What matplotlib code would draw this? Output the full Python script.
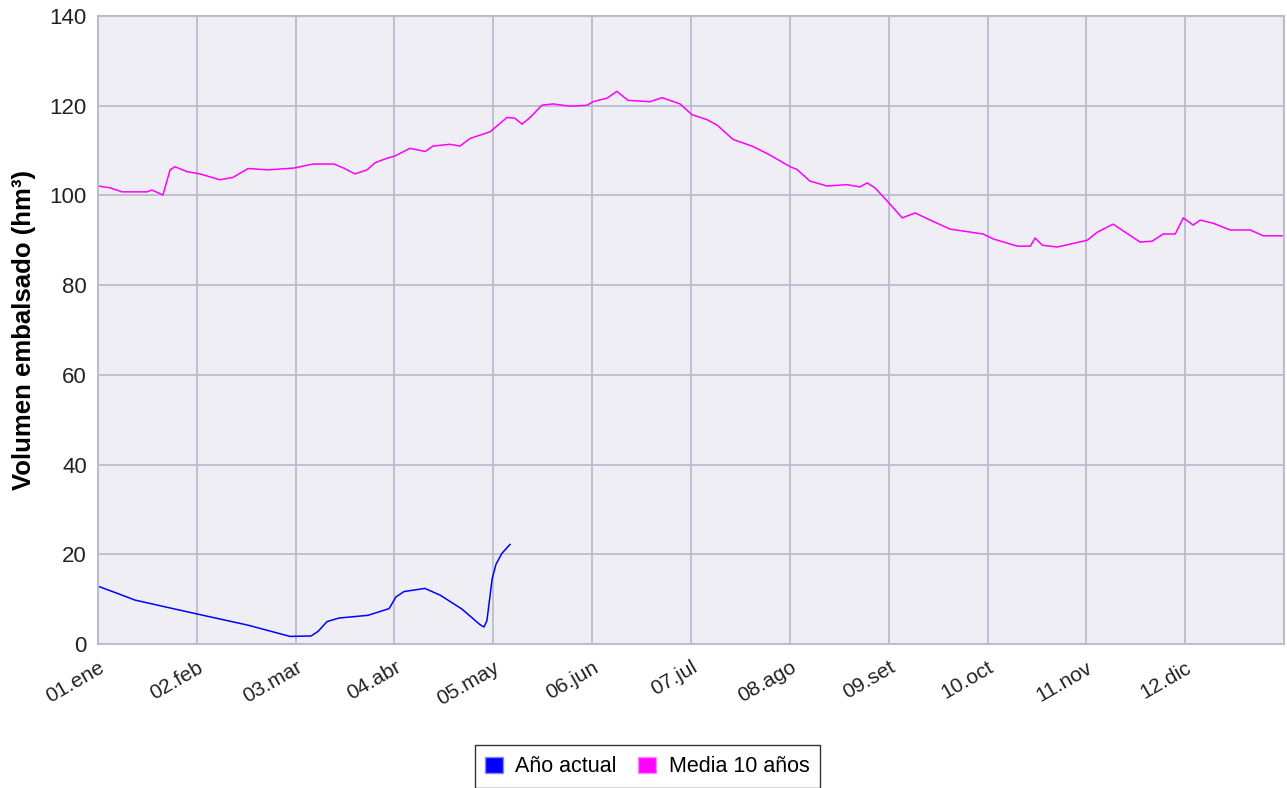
import numpy as np
import matplotlib
matplotlib.use("Agg")
import matplotlib.pyplot as plt
from matplotlib.patches import Patch

plt.rcParams['font.family'] = ['Liberation Sans', 'DejaVu Sans']

# ===================== DATOS =====================
# dia del anio (0..365) y volumen (hm3)
dias_actual = [0, 5.2, 11.4, 20.6, 30.5, 46.2, 59.1, 65.6, 67.7, 70.5, 74.2, 83.1,
               89.6, 91.7, 94.2, 100.6, 105.3, 112.0, 117.6, 118.8, 119.7, 121.3,
               122.5, 124.3, 126.8]
vol_actual = [12.9, 11.5, 9.8, 8.3, 6.7, 4.2, 1.7, 1.8, 2.8, 5.0, 5.8, 6.4,
              7.9, 10.5, 11.7, 12.4, 10.9, 7.8, 4.3, 3.8, 5.2, 14.5,
              17.8, 20.2, 22.2]

dias_media = [0, 3.7, 7.4, 15.1, 16.6, 19.7, 20.0, 22.2, 23.7, 27.4, 31.4, 37.5,
              41.5, 46.2, 52.3, 60.3, 66.2, 68.6, 72.6, 75.6, 79.1, 82.8, 85.3,
              89.0, 91.4, 96.0, 100.7, 103.1, 108.3, 111.4, 114.5, 120.7, 125.9,
              128.3, 130.5, 133.0, 136.6, 140.0, 145.3, 150.5, 152.4, 156.7, 159.7,
              163.1, 169.9, 173.6, 179.1, 182.8, 187.4, 190.5, 195.4, 201.6, 206.8,
              213.0, 215.1, 219.1, 224.4, 230.5, 234.5, 236.7, 239.1, 243.2, 247.5,
              251.5, 256.1, 262.2, 272.4, 275.5, 282.9, 286.9, 288.4, 290.6, 295.2,
              304.4, 307.5, 312.4, 320.7, 324.4, 327.8, 331.5, 334.0, 337.0, 339.2,
              343.2, 348.4, 354.6, 358.6, 364.4]
vol_media = [102.1, 101.7, 100.8, 100.8, 101.2, 100.2, 100.1, 105.7, 106.4, 105.3, 104.8, 103.5,
             104.0, 106.0, 105.7, 106.1, 107.0, 107.0, 107.0, 106.1, 104.8, 105.7, 107.3,
             108.3, 108.8, 110.5, 109.8, 111.0, 111.4, 111.0, 112.7, 114.2, 117.4,
             117.2, 115.9, 117.4, 120.1, 120.4, 119.9, 120.1, 120.9, 121.7, 123.2,
             121.2, 120.9, 121.8, 120.4, 118.0, 116.9, 115.7, 112.5, 110.9, 109.0,
             106.4, 105.8, 103.2, 102.1, 102.4, 101.9, 102.8, 101.7, 98.5, 95.0,
             96.1, 94.5, 92.5, 91.4, 90.3, 88.7, 88.7, 90.5, 88.9, 88.5,
             90.0, 91.8, 93.6, 89.6, 89.8, 91.4, 91.4, 95.0, 93.4, 94.5,
             93.8, 92.3, 92.3, 91.0, 91.0]

etiquetas_x = ["01.ene", "02.feb", "03.mar", "04.abr", "05.may", "06.jun",
               "07.jul", "08.ago", "09.set", "10.oct", "11.nov", "12.dic"]

# ===================== GRAFICO =====================
fig = plt.figure(figsize=(12.87, 7.88), dpi=100)
ax = fig.add_axes([0.0761, 0.1827, 0.9216, 0.797])

color_grid = '#bcbcd0'
ax.set_facecolor('#eeeef4')
ax.plot(dias_actual, vol_actual, color='#0000ff', lw=1.1, label='Año actual')
ax.plot(dias_media, vol_media, color='#ff00ff', lw=1.1, label='Media 10 años')

ax.set_xlim(0, 365)
ax.set_ylim(0, 140)
ax.set_yticks(np.arange(0, 141, 20))
ticks_x = [i * 365 / 12 for i in range(12)]
ax.set_xticks(ticks_x)
ax.set_xticklabels(etiquetas_x, rotation=30, ha='right', rotation_mode='anchor')
ax.tick_params(axis='both', length=0, labelsize=16, colors='#222222', pad=8)
ax.tick_params(axis='x', pad=10, labelsize=15)
ax.grid(True, color=color_grid, lw=1.3)
ax.set_axisbelow(True)
for s in ax.spines.values():
    s.set_color(color_grid)
    s.set_linewidth(1.5)

ax.set_ylabel("Volumen embalsado (hm³)", fontsize=18.5, fontweight='bold', labelpad=10)

# leyenda con cuadrados
handles = [Patch(facecolor='#0000ff', edgecolor='#8888ff', label='Año actual'),
           Patch(facecolor='#ff00ff', edgecolor='#ff88ff', label='Media 10 años')]
fig.legend(handles=handles, loc='center', bbox_to_anchor=(0.503, 0.027), ncol=2,
           fontsize=15.5, frameon=True, fancybox=False, edgecolor='black',
           handlelength=0.8, handleheight=0.8, handletextpad=0.6,
           columnspacing=1.0, borderpad=0.5)

fig.savefig("out.png", dpi=100)
